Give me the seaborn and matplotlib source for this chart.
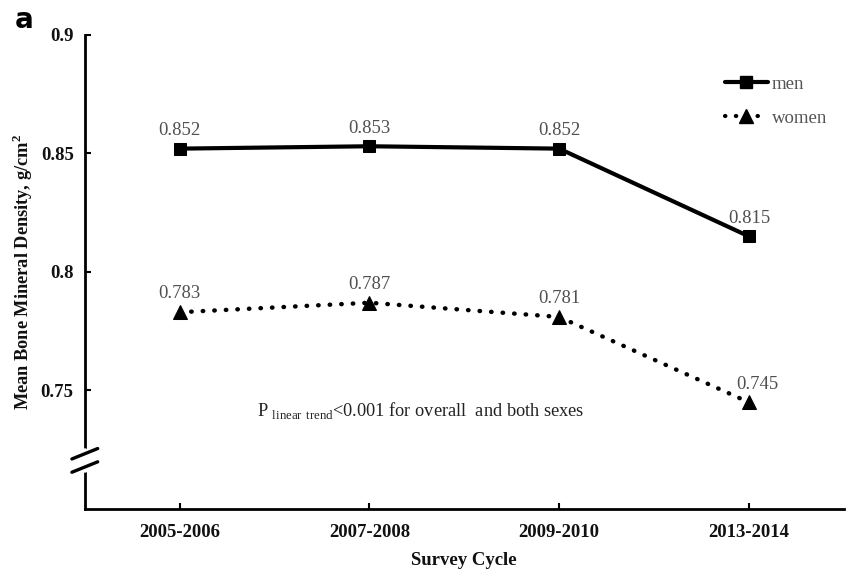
import matplotlib
matplotlib.use("Agg")
import matplotlib.pyplot as plt
import seaborn as sns
import pandas as pd
from matplotlib.lines import Line2D

cycles = ["2005-2006", "2007-2008", "2009-2010", "2013-2014"]
men = [0.852, 0.853, 0.852, 0.815]
women = [0.783, 0.787, 0.781, 0.745]
y_ticks = [0.75, 0.8, 0.85, 0.9]
y_tick_labels = ["0.75", "0.8", "0.85", "0.9"]

sns.set_theme(style="white")
plt.rcParams["font.family"] = ["Liberation Serif", "DejaVu Serif"]
plt.rcParams["mathtext.fontset"] = "custom"
plt.rcParams["mathtext.rm"] = "Liberation Serif"
plt.rcParams["mathtext.bf"] = "Liberation Serif:bold"

df = pd.DataFrame({
    "cycle": cycles * 2,
    "bmd": men + women,
    "sex": ["men"] * 4 + ["women"] * 4,
})

fig = plt.figure(figsize=(8.48, 5.71), dpi=100)
ax = fig.add_axes([0.100, 0.1086, 0.895, 0.8304])

dotted = (0, (0.1, 2.5))
sns.lineplot(data=df[df.sex == "men"], x="cycle", y="bmd", ax=ax, color="black",
             lw=3, marker="s", markersize=8.5, markeredgecolor="black", legend=False)
sns.lineplot(data=df[df.sex == "women"], x="cycle", y="bmd", ax=ax, color="black",
             lw=3.2, marker="^", markersize=10, markeredgecolor="black", legend=False)
ax.lines[1].set_linestyle(dotted)
ax.lines[1].set_dash_capstyle("round")

for vals in (men, women):
    for i, v in enumerate(vals):
        dx = 6 if (vals is women and i == len(vals) - 1) else 0
        ax.annotate(f"{v:.3f}", (i, v), xytext=(dx, 7), textcoords="offset points",
                    ha="center", va="bottom", fontsize=13.5, color="#505050")

ax.set_xlim(-0.5, 3.5)
ax.set_ylim(0.70, 0.90)
ax.set_yticks(y_ticks)
ax.set_yticklabels(y_tick_labels)
for lab in ax.get_yticklabels() + ax.get_xticklabels():
    lab.set_fontweight("bold")
    lab.set_fontsize(13.5)
    lab.set_color("#111111")
ax.tick_params(axis="both", direction="in", length=4, width=1.5, color="black",
               left=True, bottom=True)
ax.tick_params(axis="y", pad=8)
ax.tick_params(axis="x", pad=11)

for side in ("top", "right"):
    ax.spines[side].set_visible(False)
for side in ("left", "bottom"):
    ax.spines[side].set_color("black")
    ax.spines[side].set_linewidth(2)

ax.set_xlabel("Survey Cycle", fontsize=13.5, fontweight="bold", color="#111111", labelpad=8)
ax.set_ylabel("Mean Bone Mineral Density, g/cm$^\\mathbf{2}$", fontsize=13.2,
              fontweight="bold", color="#111111")
ax.yaxis.set_label_coords(-0.066, 0.5)

# axis break on the y axis
yb = (0.7205 - 0.70) / 0.20
ax.plot([0.0, 0.0], [yb - 0.02, yb + 0.02], transform=ax.transAxes, color="white",
        lw=4, clip_on=False, zorder=5)
for dy in (-0.014, 0.014):
    ax.plot([-0.017, 0.017], [yb + dy - 0.011, yb + dy + 0.011], transform=ax.transAxes,
            color="black", lw=2.4, clip_on=False, zorder=6)

ax.text(0.41, 0.7415, "P $_{\\mathrm{linear\\ trend}}$<0.001 for overall  and both sexes",
        fontsize=13.2, color="#222222", va="center", ha="left")

handles = [
    Line2D([], [], color="black", lw=3, marker="s", markersize=8.5),
    Line2D([], [], color="black", lw=3, marker="^", markersize=10,
           linestyle=dotted, dash_capstyle="round"),
]
leg = ax.legend(handles, ["men", "women"], loc="upper right", bbox_to_anchor=(1.0, 0.95),
                frameon=False, fontsize=13.5, handlelength=2.3, handletextpad=0.2,
                labelspacing=0.9)
for t in leg.get_texts():
    t.set_color("#555555")

fig.text(0.017, 0.951, "a", fontsize=20, fontweight="bold", family="DejaVu Sans",
         color="black", va="baseline")

fig.savefig("out.png", dpi=100)
